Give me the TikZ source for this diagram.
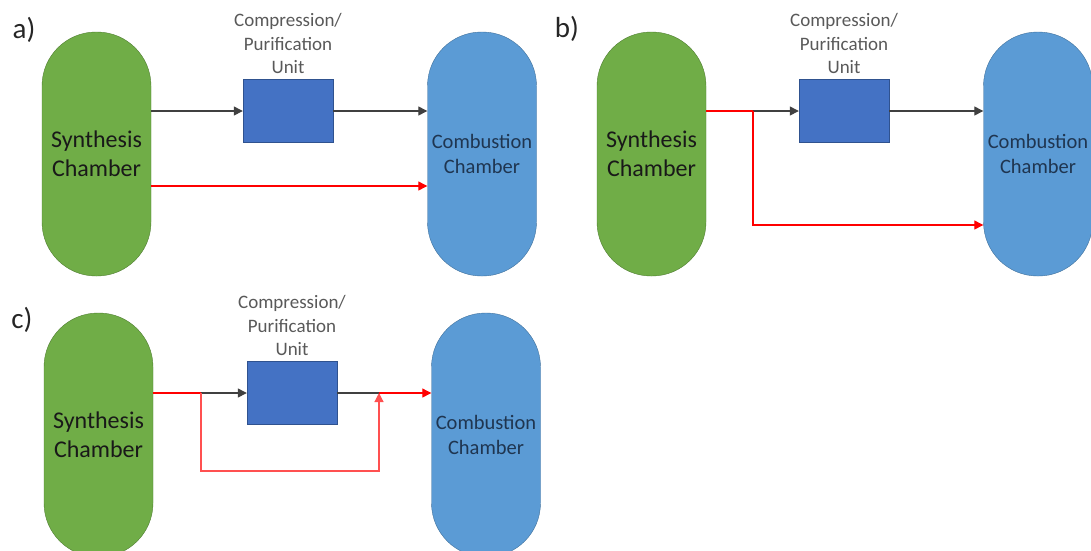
\documentclass[tikz,border=0pt]{standalone}
\usepackage{fontspec}
\setmainfont{Carlito}
\usetikzlibrary{positioning,arrows.meta}
\definecolor{synfill}{HTML}{70AD47}
\definecolor{synline}{HTML}{507E32}
\definecolor{combfill}{HTML}{5B9BD5}
\definecolor{combline}{HTML}{41719C}
\definecolor{unitfill}{HTML}{4472C4}
\definecolor{unitline}{HTML}{2F528F}
\definecolor{combtext}{HTML}{1F3550}
\definecolor{labgray}{HTML}{595959}
\definecolor{loopred}{HTML}{FF5050}
\begin{document}
\begin{tikzpicture}[x=1pt,y=-1pt,
chamber0/.style={rectangle,draw=synline,fill=synfill,minimum width=109pt,minimum height=244pt,inner sep=0pt,rounded corners=54pt,align=center,text=black!90,font=\fontsize{24}{29}\selectfont},
chamber1/.style={rectangle,draw=combline,fill=combfill,minimum width=109pt,minimum height=244pt,inner sep=0pt,rounded corners=54pt,align=center,text=combtext,font=\fontsize{20.5}{25}\selectfont},
unitbox/.style={rectangle,draw=unitline,fill=unitfill,minimum width=90pt,minimum height=63pt},
unitlabel/.style={inner sep=0pt,align=center,text=labgray,font=\fontsize{19}{23.5}\selectfont},
panel/.style={inner sep=0pt,text=black!85,font=\fontsize{29}{29}\selectfont},
flow/.style={color=black!75,line width=1.3pt,-{Triangle[length=9pt,width=9pt]}},
bypass/.style={draw=red,line width=1.2pt,-{Triangle[length=9pt,width=9pt]}},
]
\useasboundingbox (0,0) rectangle (1091,550);

% a) bypass straight into the combustion chamber
\node[panel] at (24,30) {a)};
\node[chamber0] (synA) at (96.5,154) {Synthesis\\Chamber};
\node[unitbox] (unitA) at (288,111) {};
\node[chamber1] (combA) at (482,154) {Combustion\\Chamber};
\node[unitlabel, above=5pt of unitA] (labA) {Compression/\\Purification\\Unit};
\coordinate (redA) at (151,186);

\path[flow] (synA.east |- unitA.west) edge (unitA.west)
            (unitA.east) edge (combA.west |- unitA.east);
\draw[bypass] (synA.east |- redA) -- (combA.west |- redA);

% b) branch before the unit
\node[panel] at (567,29) {b)};
\node[chamber0] (synB) at (651.5,154) {Synthesis\\Chamber};
\node[unitbox] (unitB) at (844,111) {};
\node[chamber1] (combB) at (1038,154) {Combustion\\Chamber};
\node[unitlabel, above=5pt of unitB] (labB) {Compression/\\Purification\\Unit};
\coordinate (forkB) at (753,111);
\coordinate (turnB) at (753,225);

\draw[red,line width=1.5pt] (synB.east |- forkB) -- (forkB);
\path[flow] (forkB) edge (unitB.west)
            (unitB.east) edge (combB.west |- unitB.east);
\draw[bypass] (forkB) -- (turnB) -- (combB.west |- turnB);

% c) loop round the unit
\node[panel] at (22,320) {c)};
\node[chamber0] (synC) at (98.5,435) {Synthesis\\Chamber};
\node[unitbox] (unitC) at (292,393) {};
\node[chamber1] (combC) at (486,435) {Combustion\\Chamber};
\node[unitlabel, above=5pt of unitC] (labC) {Compression/\\Purification\\Unit};
\coordinate (forkC) at (201,393);
\coordinate (downC) at (201,471);
\coordinate (upC) at (379,471);
\coordinate (joinC) at (379,393);

\draw[red,line width=1.5pt] (synC.east |- forkC) -- (forkC);
\path[flow] (forkC) edge (unitC.west);
\draw[black!75,line width=1.3pt] (unitC.east) -- (joinC);
\draw[bypass,draw=loopred] (forkC) -- (downC) -- (upC) -- (joinC);
\draw[bypass] (joinC) -- (combC.west |- joinC);

\end{tikzpicture}
\end{document}
